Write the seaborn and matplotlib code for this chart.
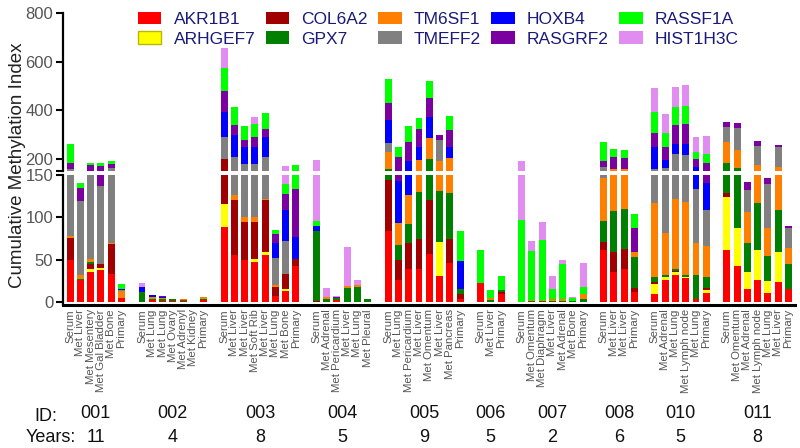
import numpy as np
import pandas as pd
import seaborn as sns
import matplotlib
matplotlib.use('Agg')
import matplotlib.pyplot as plt
from matplotlib.patches import Patch
from matplotlib import transforms

genes = ['AKR1B1', 'ARHGEF7', 'COL6A2', 'GPX7', 'TM6SF1',
         'TMEFF2', 'HOXB4', 'RASGRF2', 'RASSF1A', 'HIST1H3C']
colors = ['#ff0000', '#ffff00', '#a00000', '#007f00', '#ff8000',
          '#808080', '#0000ff', '#7a00a0', '#00ff00', '#e08cf0']

patients = ['001', '002', '003', '004', '005', '006', '007', '008', '010', '011']
years = [11, 4, 8, 5, 9, 5, 2, 6, 5, 8]
samples = [
    ['Serum', 'Met Liver', 'Met Mesentery', 'Met Gal Bladder', 'Met Bone', 'Primary'],
    ['Serum', 'Met Lung', 'Met Lung', 'Met Ovary', 'Met Adrenyl', 'Met Kidney', 'Primary'],
    ['Serum', 'Met Liver', 'Met Liver', 'Met Soft Rib', 'Met Liver', 'Met Lung', 'Met Bone', 'Primary'],
    ['Serum', 'Met Adrenal', 'Met Pericardium', 'Met Liver', 'Met Lung', 'Met Pleural'],
    ['Serum', 'Met Lung', 'Met Pericardium', 'Met Liver', 'Met Omentum', 'Met Liver', 'Met Pancreas', 'Primary'],
    ['Serum', 'Met Liver', 'Primary'],
    ['Serum', 'Met Omentum', 'Met Diaphragm', 'Met Liver', 'Met Adrenal', 'Met Bone', 'Primary'],
    ['Serum', 'Met Liver', 'Met Liver', 'Primary'],
    ['Serum', 'Met Adrenal', 'Met Lung', 'Met Lymph node', 'Met Lung', 'Primary'],
    ['Serum', 'Met Omentum', 'Met Adrenal', 'Met Lymph node', 'Met Lung', 'Met Liver', 'Primary'],
]

# methylation index per gene, one value per sample (patients in order above)
AKR1B1 = [50, 26, 35, 38, 33, 5,  0, 2, 1, 1, 1, 0, 2,  89, 55, 50, 47, 55, 7, 13, 42,
          0, 0, 2, 0, 0, 0,  84, 26, 39, 39, 57, 31, 46, 4,  23, 0, 10,  0, 0, 0, 0, 0, 0, 0,
          61, 36, 39, 12,  9, 26, 32, 28, 4, 11,  61, 43, 15, 26, 11, 24, 15]
ARHGEF7 = [0, 0, 4, 2, 0, 0,  0, 0, 0, 0, 0, 0, 0,  27, 0, 0, 4, 4, 0, 2, 0,
           0, 0, 0, 0, 0, 0,  0, 0, 0, 0, 0, 40, 0, 0,  0, 0, 0,  0, 0, 0, 0, 0, 0, 0,
           0, 0, 0, 0,  12, 3, 3, 2, 0, 3,  63, 44, 21, 35, 14, 35, 0]
COL6A2 = [26, 0, 6, 5, 35, 0,  0, 0, 0, 0, 0, 0, 0,  83, 65, 44, 44, 61, 11, 18, 9,
          1, 0, 0, 0, 0, 0,  60, 24, 31, 35, 64, 0, 28, 6,  0, 0, 2,  0, 0, 0, 0, 0, 0, 0,
          10, 23, 24, 4,  3, 0, 2, 0, 0, 3,  5, 0, 0, 0, 0, 0, 0]
GPX7 = [0, 1, 2, 0, 0, 0,  12, 2, 2, 3, 1, 0, 1,  0, 0, 1, 0, 0, 0, 0, 0,
        83, 3, 3, 17, 18, 3,  13, 17, 22, 56, 77, 60, 55, 5,  0, 2, 2,  0, 1, 1, 1, 1, 1, 3,
        25, 48, 47, 37,  5, 3, 2, 2, 28, 12,  53, 77, 34, 56, 29, 50, 30]
TM6SF1 = [2, 5, 4, 0, 2, 8,  0, 2, 2, 0, 2, 0, 3,  0, 6, 5, 5, 2, 2, 0, 0,
          0, 3, 0, 2, 2, 0,  72, 26, 34, 65, 89, 61, 73, 0,  0, 3, 0,  0, 1, 1, 2, 2, 0, 6,
          50, 50, 47, 6,  88, 50, 83, 86, 38, 37,  89, 72, 36, 58, 34, 59, 19]
TMEFF2 = [82, 87, 101, 92, 94, 1,  0, 0, 0, 0, 0, 0, 0,  92, 83, 77, 77, 84, 32, 39, 0,
          0, 0, 0, 0, 0, 0,  35, 0, 0, 0, 0, 85, 0, 0,  0, 0, 0,  0, 0, 0, 0, 0, 0, 0,
          20, 0, 0, 0,  40, 82, 98, 98, 64, 43,  62, 89, 26, 79, 51, 79, 24]
HOXB4 = [0, 0, 0, 0, 0, 1,  6, 2, 1, 0, 0, 0, 0,  100, 89, 73, 73, 85, 18, 37, 26,
         6, 0, 0, 0, 0, 0,  96, 50, 65, 55, 84, 0, 48, 34,  0, 0, 0,  0, 0, 0, 0, 0, 0, 0,
         0, 0, 0, 0,  93, 31, 41, 45, 34, 32,  0, 0, 0, 0, 0, 0, 0]
RASGRF2 = [23, 16, 24, 35, 15, 0,  0, 0, 1, 0, 0, 0, 0,  88, 40, 27, 41, 30, 10, 19, 56,
           0, 0, 1, 0, 0, 0,  71, 63, 80, 71, 78, 21, 68, 0,  0, 0, 0,  0, 0, 0, 0, 0, 0, 0,
           27, 52, 45, 29,  57, 55, 78, 82, 30, 43,  17, 24, 10, 21, 7, 10, 2]
RASSF1A = [77, 6, 8, 9, 13, 6,  0, 0, 0, 0, 0, 0, 0,  94, 76, 58, 52, 69, 5, 11, 42,
           6, 0, 0, 0, 0, 0,  96, 44, 64, 48, 72, 0, 58, 35,  38, 9, 17,  97, 58, 71, 12, 42, 4, 9,
           75, 31, 34, 16,  87, 58, 73, 74, 29, 36,  0, 0, 0, 0, 0, 0, 0]
HIST1H3C = [0, 0, 0, 0, 0, 0,  5, 0, 0, 0, 0, 0, 0,  84, 0, 0, 30, 0, 0, 31, 0,
            99, 10, 1, 46, 6, 0,  0, 0, 0, 0, 0, 0, 0, 0,  0, 0, 0,  95, 12, 22, 16, 5, 1, 28,
            0, 0, 0, 0,  96, 76, 82, 86, 64, 74,  0, 0, 0, 0, 0, 0, 0]
values = [AKR1B1, ARHGEF7, COL6A2, GPX7, TM6SF1, TMEFF2, HOXB4, RASGRF2, RASSF1A, HIST1H3C]

# categorical slots, with one empty slot between patients
order, tick_labels, keys, group_pos = [], [], [], []
for g, (pid, names) in enumerate(zip(patients, samples)):
    if g > 0:
        order.append(f'gap{g}')
        tick_labels.append('')
    start = len(order)
    for name in names:
        k = f'{pid}-{len(order)}'
        order.append(k)
        keys.append(k)
        tick_labels.append(name)
    group_pos.append((start + len(order) - 1) / 2)

df = pd.DataFrame(dict(zip(genes, values)))
df.insert(0, 'key', keys)
gaps = pd.DataFrame({'key': [k for k in order if k.startswith('gap')]})
for gname in genes:
    gaps[gname] = 0
df = pd.concat([df, gaps], ignore_index=True)
cum = df.copy()
cum[genes] = df[genes].cumsum(axis=1)

sns.set_style('white')
plt.rcParams['font.family'] = ['Liberation Sans', 'DejaVu Sans']
narrow = ['Liberation Sans Narrow', 'Liberation Sans', 'DejaVu Sans']

fig = plt.figure(figsize=(8, 4.48), dpi=100)
ax_top = fig.add_axes([63 / 800, 1 - 171 / 448, 732 / 800, 158 / 448])
ax_low = fig.add_axes([63 / 800, 1 - 305 / 448, 732 / 800, 130 / 448])

for ax in (ax_top, ax_low):
    # draw cumulative totals from the top layer down so lower genes overlay
    for gname, col in zip(genes[::-1], colors[::-1]):
        sns.barplot(data=cum, x='key', y=gname, order=order, color=col, saturation=1,
                    width=0.68, errorbar=None, linewidth=0, ax=ax)
    ax.set_xlim(-0.7, len(order) - 0.35)
    ax.set_xlabel('')
    ax.set_ylabel('')
    ax.tick_params(axis='y', length=5, width=1.5, color='black', labelsize=12,
                   labelcolor='#555555', pad=2, left=True)
    ax.spines['left'].set_linewidth(1.6)
    ax.spines['left'].set_color('black')
    for s in ['top', 'right']:
        ax.spines[s].set_visible(False)

ax_top.set_ylim(150, 800)
ax_top.set_yticks([200, 400, 600, 800])
ax_top.set_yticks([150], minor=True)
ax_top.tick_params(axis='y', which='minor', length=5, width=1.5, color='black', left=True)
ax_top.spines['bottom'].set_visible(False)
ax_top.set_xticks([])
for lab in ax_top.get_yticklabels():
    lab.set_family(narrow)

ax_low.set_ylim(-3.5, 150)
ax_low.set_yticks([0, 50, 100, 150])
for lab in ax_low.get_yticklabels():
    lab.set_family(narrow)
ax_low.spines['bottom'].set_linewidth(2.2)
ax_low.spines['bottom'].set_color('black')
ax_low.set_xticks(range(len(order)))
ax_low.set_xticklabels(tick_labels, rotation=90, fontsize=8.2, color='#555555', family=narrow)
ax_low.tick_params(axis='x', length=0, pad=3)

fig.text(18 / 800, 1 - 165 / 448, 'Cumulative Methylation Index', rotation=90,
         ha='center', va='center', fontsize=13.5, color='#222222')

trans = transforms.blended_transform_factory(ax_low.transData, fig.transFigure)
for pos, pid, yr in zip(group_pos, patients, years):
    ax_low.text(pos, 1 - 413 / 448, pid, transform=trans, ha='center', va='center',
                fontsize=13, family=narrow, color='#111111')
    ax_low.text(pos, 1 - 437 / 448, str(yr), transform=trans, ha='center', va='center',
                fontsize=13, family=narrow, color='#111111')
fig.text(57 / 800, 1 - 416 / 448, 'ID:', ha='right', va='center', fontsize=13,
         family=narrow, color='#111111')
fig.text(76 / 800, 1 - 437 / 448, 'Years:', ha='right', va='center', fontsize=13,
         family=narrow, color='#111111')

handles = [Patch(facecolor=c, edgecolor=('#b8b800' if g == 'ARHGEF7' else 'none'))
           for g, c in zip(genes, colors)]
leg = fig.legend(handles, genes, ncol=5, loc='upper left', bbox_to_anchor=(138 / 800, 1 - 12 / 448),
                 frameon=False, fontsize=12.5, handlelength=1.35, handleheight=0.7,
                 handletextpad=0.7, columnspacing=0.6, labelspacing=0.25,
                 borderpad=0, borderaxespad=0)
for t in leg.get_texts():
    t.set_color('#1a1a7a')

fig.savefig('out.png', dpi=100)
